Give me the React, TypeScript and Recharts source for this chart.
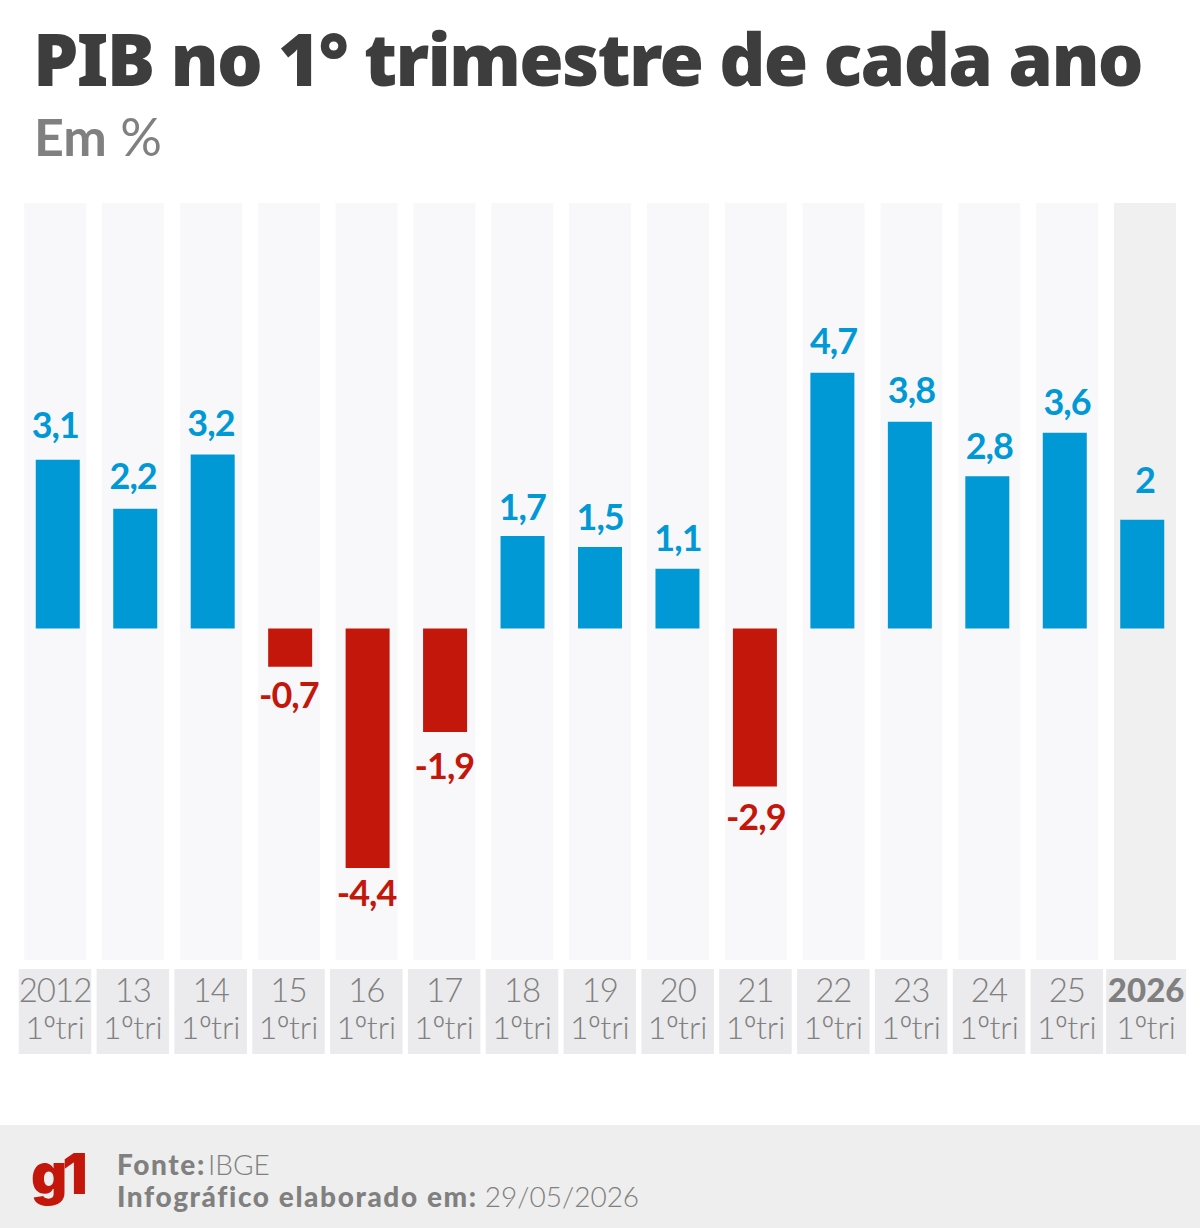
import React from 'react';
import { BarChart, Bar, XAxis, YAxis, Cell, LabelList } from 'recharts';

const years = ['2012','13','14','15','16','17','18','19','20','21','22','23','24','25','2026'];
const quarterParts = ['1', 'º', 'tri'];
const growth = [3.1,2.2,3.2,-0.7,-4.4,-1.9,1.7,1.5,1.1,-2.9,4.7,3.8,2.8,3.6,2];
const rows = years.map((year, i) => ({ year, growth: growth[i] }));

// distance from the bar end to the label baseline, read per label
const labelGap = [22,20,18,41,38,47,16,17,18,44,19,19,17,18,27];

const FONT = 'Lato, "Noto Sans", sans-serif';
const BLUE = '#0099d6';
const RED = '#c4170c';
const last = years.length - 1;
const drift = (i: number) => -2.5 + 0.37 * i;

const Track = (p: any) => {
  const cx = p.x + p.width / 2 + drift(p.index);
  return <rect x={cx - 31} y={p.y} width={62} height={p.height} fill={p.index === last ? '#f0f0f0' : '#f8f8fa'} />;
};

const Tick = (p: any) => {
  const i = p.index;
  const isLast = i === last;
  const cx = p.x + drift(i) + (isLast ? 1.5 : 0);
  const w = isLast ? 80 : 72.5;
  return (
    <g>
      <rect x={cx - w / 2} y={969} width={w} height={85} fill="#ebebed" />
      <text x={cx} y={1002} textAnchor="middle" fontFamily={FONT} fontSize={33} fontWeight={isLast ? 900 : 300} letterSpacing={isLast ? 0 : -1} fill="#808080">{p.payload.value}</text>
      <text x={cx} y={1039} textAnchor="middle" fontFamily={FONT} fontSize={32} fontWeight={300} fill="#808080">
        <tspan>{quarterParts[0]}</tspan>
        <tspan fontFamily='"Noto Sans"'>{quarterParts[1]}</tspan>
        <tspan>{quarterParts[2]}</tspan>
      </text>
    </g>
  );
};

const ValueLabel = (p: any) => {
  const v = Number(p.value);
  const top = Math.min(p.y, p.y + p.height);
  const bottom = Math.max(p.y, p.y + p.height);
  const cx = p.x + p.width / 2 + drift(p.index);
  const gap = labelGap[p.index];
  return (
    <text x={cx} y={v >= 0 ? top - gap : bottom + gap} textAnchor="middle" fontFamily={FONT} fontSize={36} fontWeight={700} letterSpacing={-1} fill={v >= 0 ? BLUE : RED}>
      {String(v).replace('.', ',')}
    </text>
  );
};

export default function App() {
  return (
    <div style={{ position: 'absolute', left: 0, top: 0, width: 1200, height: 1228, background: '#fff', overflow: 'hidden', fontFamily: FONT }}>
      <div style={{ position: 'absolute', left: 33, top: 13, fontFamily: '"Noto Sans", sans-serif', fontSize: 72, fontWeight: 900, letterSpacing: -1.75, color: '#3d3d3d', whiteSpace: 'nowrap', lineHeight: '90px' }}>PIB no 1° trimestre de cada ano</div>
      <div style={{ position: 'absolute', left: 34, top: 104, fontSize: 52, color: '#808080', whiteSpace: 'nowrap', lineHeight: '64px' }}>
        <span style={{ fontWeight: 700 }}>Em</span> <span style={{ fontWeight: 400 }}>%</span>
      </div>
      <div style={{ position: 'absolute', left: 0, top: 1125, width: 1200, height: 103, background: '#eeeeee' }} />
      <BarChart style={{ position: 'absolute', left: 0, top: 0 }} width={1200} height={1228} data={rows} margin={{ top: 203, right: 19.3, bottom: 168, left: 18.77 }} barSize={44}>
        <XAxis dataKey="year" height={100} axisLine={false} tickLine={false} interval={0} padding={{ left: 0, right: 0 }} tick={Tick} />
        <YAxis hide domain={[-6.09, 7.82]} allowDataOverflow />
        <Bar dataKey="growth" isAnimationActive={false} background={Track}>
          {rows.map((r) => <Cell key={r.year} fill={r.growth >= 0 ? BLUE : RED} />)}
          <LabelList dataKey="growth" content={ValueLabel} />
        </Bar>
      </BarChart>
      <div style={{ position: 'absolute', left: 31, top: 1141, fontFamily: 'Inter, sans-serif', fontSize: 56, fontWeight: 900, color: RED, lineHeight: '66px', letterSpacing: -5 }}>g1</div>
      <div style={{ position: 'absolute', left: 117, top: 1148, fontSize: 28, color: '#808080', lineHeight: '32px', whiteSpace: 'nowrap' }}>
        <div><span style={{ fontWeight: 900, letterSpacing: 1.6 }}>Fonte:</span> <span style={{ fontWeight: 300, marginLeft: -5 }}>IBGE</span></div>
        <div><span style={{ fontWeight: 900, letterSpacing: 1.6 }}>Infográfico elaborado em:</span> <span style={{ fontWeight: 300 }}>29/05/2026</span></div>
      </div>
    </div>
  );
}
